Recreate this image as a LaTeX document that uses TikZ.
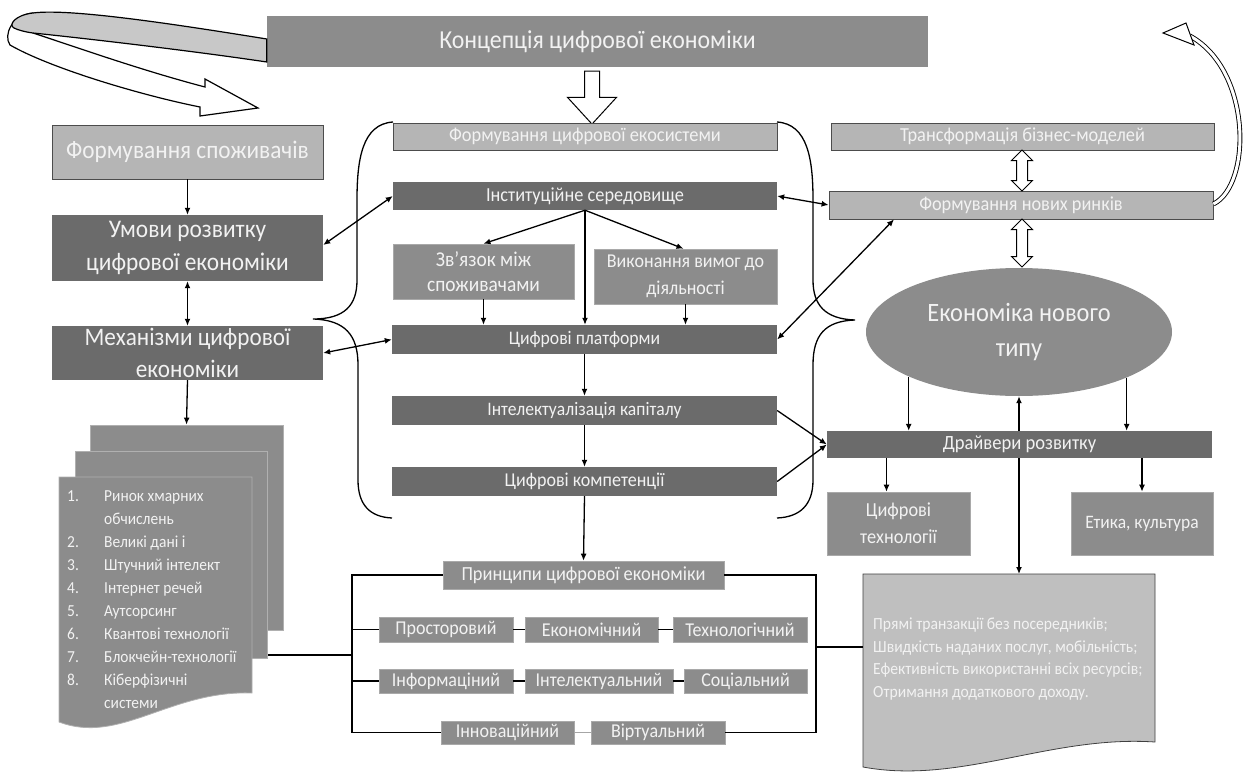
\documentclass[tikz,border=0pt]{standalone}
\usepackage{fontspec}
\setmainfont{Carlito}[FakeStretch=0.92]
\usetikzlibrary{arrows.meta,shapes.geometric,shapes.arrows,calc,backgrounds}

\definecolor{dk}{HTML}{6B6B6B}
\definecolor{md}{HTML}{8C8C8C}
\definecolor{lt}{HTML}{B5B5B5}
\definecolor{ltdoc}{HTML}{BFBFBF}
\definecolor{txt}{HTML}{F2F2F2}
\definecolor{ribbon}{HTML}{C8C8C8}
\definecolor{sheetedge}{HTML}{B0B0B0}

\newcommand{\myfs}[2]{\fontsize{#1}{#2}\selectfont}

\begin{document}
\begin{tikzpicture}[x=1pt,y=-1pt,
  box/.style={rectangle, inner sep=0pt, text=txt, align=center},
  dkbox/.style={box, fill=dk},
  mdbox/.style={box, fill=md, draw=md!75!white, line width=0.6pt},
  ltbox/.style={box, fill=lt, draw=black!70, line width=0.8pt},
  tip/.style={Latex[length=7pt,width=6pt]},
  arr/.style={-{Latex[length=7pt,width=6pt]}, line width=1.3pt},
  darr/.style={{Latex[length=7pt,width=6pt]}-{Latex[length=7pt,width=6pt]}, line width=1.3pt},
  grp/.style={line width=1.5pt},
  hollow/.style={draw=black, fill=white, line width=1pt},
]
\useasboundingbox (0,0) rectangle (1248,776);
\begin{scope}[on background layer]
  \fill[white] (0,0) rectangle (1248,776);
\end{scope}

% ---------- top title ----------
\node[box, fill=md, minimum width=661, minimum height=51, font=\myfs{25.9}{30}] (title) at (597.5,41.5) {Концепція цифрової економіки};

% ribbon arrow from the title down to the left column
\filldraw[fill=white, draw=black, line width=1.2pt]
  (33,13) .. controls (12,15) and (3,35) .. (10,45)
  .. controls (50,68) and (140,95) .. (200,107)
  -- (200,116) -- (258,108) -- (205,79) -- (205,87)
  .. controls (140,70) and (70,45) .. (33,33) -- cycle;
\filldraw[fill=ribbon, draw=black, line width=1.2pt]
  (title.west |- 0,39) .. controls (180,25) and (70,8) .. (33,13)
  .. controls (15,15) and (8,25) .. (14,28)
  .. controls (18,30) and (25,32) .. (33,33)
  .. controls (100,40) and (200,52) .. (title.west |- 0,62) -- cycle;

% hollow arrow under the title
\node[single arrow, hollow, rotate=-90, minimum height=53, inner xsep=0pt, inner ysep=7pt,
  minimum width=0pt, single arrow head extend=17pt, single arrow tip angle=85] (down) at (592,93.5) {};

% ---------- left column ----------
\node[ltbox, minimum width=271, minimum height=54, font=\myfs{25.3}{30}] (cons) at (187.5,152) {Формування споживачів};
\node[dkbox, minimum width=271, minimum height=66, font=\myfs{25.4}{33}] (cond) at (187.5,248) {Умови розвитку\\цифрової економіки};
\node[dkbox, minimum width=271, minimum height=54, font=\myfs{25.2}{32}] (mech) at (187.5,353) {Механізми цифрової\\економіки};

% stacked documents
\node[box, fill=md, draw=sheetedge, line width=0.8pt, minimum width=193, minimum height=205] (sh3) at (186.5,527.5) {};
\node[box, fill=md, draw=sheetedge, line width=0.8pt, minimum width=192, minimum height=207] (sh2) at (171,554.5) {};
\filldraw[fill=md, draw=sheetedge, line width=0.8pt]
  (59,477) -- (252,477) -- (252,693) .. controls (170,690) and (120,745) .. (59,722) -- cycle;
\coordinate (fre) at (252,655);
\node[anchor=north west, inner sep=0pt, text=txt, font=\myfs{16.8}{23}] (list) at (67,485) {%
\begin{tabular}{@{}p{37pt}@{}l@{}}
1. & Ринок хмарних\\
   & обчислень\\
2. & Великі дані і\\
3. & Штучний інтелект\\
4. & Інтернет речей\\
5. & Аутсорсинг\\
6. & Квантові технології\\
7. & Блокчейн-технології\\
8. & Кіберфізичні\\
   & системи
\end{tabular}};

% ---------- middle column ----------
\node[ltbox, minimum width=384, minimum height=27, font=\myfs{20}{23}] (eco) at (585,136.5) {Формування цифрової екосистеми};
\node[dkbox, minimum width=384, minimum height=28, font=\myfs{19.9}{23}] (inst) at (585,196) {Інституційне середовище};
\node[mdbox, minimum width=181, minimum height=55, font=\myfs{21.1}{25}] (link) at (483.5,271.5) {Зв’язок між\\споживачами};
\node[mdbox, minimum width=183, minimum height=55, font=\myfs{19.6}{27}] (req) at (685.5,276.5) {Виконання вимог до\\діяльності};
\node[dkbox, minimum width=385, minimum height=29, font=\myfs{19.2}{23}] (plat) at (584.5,339.5) {Цифрові платформи};
\node[dkbox, minimum width=385, minimum height=29, font=\myfs{19.1}{23}] (intel) at (584.5,410.5) {Інтелектуалізація капіталу};
\node[dkbox, minimum width=385, minimum height=29, font=\myfs{19.6}{23}] (comp) at (584.5,481.5) {Цифрові компетенції};

% braces around the ecosystem
\draw[line width=1.3pt] (393,122) .. controls (362,124) and (357,160) .. (357,200) -- (357,280)
  .. controls (357,305) and (345,319) .. (313,319)
  .. controls (345,320) and (358,335) .. (358,365) -- (358,480)
  .. controls (358,505) and (370,517) .. (392,518);
\draw[line width=1.3pt] (777,122) .. controls (808,124) and (813,160) .. (813,200) -- (813,280)
  .. controls (813,305) and (825,319) .. (855,320)
  .. controls (825,321) and (813,335) .. (813,365) -- (813,480)
  .. controls (813,505) and (800,517) .. (777,518);

% ---------- principles ----------
\tikzset{pbox/.style={mdbox, font=\myfs{19.6}{23}}}
\node[mdbox, minimum width=281, minimum height=28, font=\myfs{20}{23}] (prin) at (583.5,575) {Принципи цифрової економіки};
\node[pbox, minimum width=134, minimum height=25] (spat) at (446,629.5) {Просторовий};
\node[pbox, minimum width=133, minimum height=25] (econ) at (591.5,629.5) {Економічний};
\node[pbox, minimum width=134, minimum height=25] (tech) at (740,629.5) {Технологічний};
\node[pbox, minimum width=134, minimum height=24] (info) at (446,681) {Інформаціний};
\node[pbox, minimum width=148, minimum height=24] (intl) at (599,681) {Інтелектуальний};
\node[pbox, minimum width=123, minimum height=24] (soc) at (745.5,681) {Соціальний};
\node[pbox, minimum width=133, minimum height=23] (inno) at (507.5,732.5) {Інноваційний};
\node[pbox, minimum width=134, minimum height=23] (virt) at (658,732.5) {Віртуальний};
\coordinate (gl) at (352,0);
\coordinate (gr) at (816,0);

% ---------- right column ----------
\node[ltbox, minimum width=383, minimum height=27, font=\myfs{19.9}{23}] (trans) at (1022.5,136.5) {Трансформація бізнес-моделей};
\node[ltbox, minimum width=384, minimum height=28, font=\myfs{19.9}{23}] (mark) at (1021,205) {Формування нових ринків};
\node[ellipse, fill=md, minimum width=306, minimum height=128, inner sep=0pt, text=txt, align=center, font=\myfs{26.5}{35}] (newec) at (1019,332) {Економіка нового\\типу};
\node[dkbox, minimum width=385, minimum height=27, font=\myfs{20.2}{23}] (drv) at (1019.5,444.5) {Драйвери розвитку};
\node[mdbox, minimum width=143, minimum height=63, font=\myfs{19.9}{27}] (dtech) at (898.5,523.5) {Цифрові\\технології};
\node[mdbox, minimum width=142, minimum height=63, font=\myfs{19}{25}] (eth) at (1142,523.5) {Етика, культура};

% hollow double arrows
\node[double arrow, hollow, rotate=90, minimum height=41, inner xsep=0pt, inner ysep=5pt,
  minimum width=0pt, double arrow head extend=5pt] (da1) at (1022,170.5) {};
\node[double arrow, hollow, rotate=90, minimum height=48, inner xsep=0pt, inner ysep=5pt,
  minimum width=0pt, double arrow head extend=5pt] (da2) at (1022,243) {};

% curved arrow from the markets box back to the top
\draw[double=white, double distance=3pt, line width=0.9pt]
  (mark.east |- 0,204) .. controls (1252,185) and (1252,70) .. (1190,36);
\filldraw[fill=white, draw=black, line width=1pt] (1186,23) -- (1163,33) -- (1194,45) -- cycle;

% bottom right document
\filldraw[fill=ltdoc, draw=black!75, line width=0.8pt]
  (863,574) -- (1155,574) -- (1155,742) .. controls (1050,735) and (960,785) .. (863,767) -- cycle;
\coordinate (d2n) at (1019,574);
\coordinate (d2w) at (863,647);
\node[anchor=north west, inner sep=0pt, align=left, text=txt, font=\myfs{17}{22.5}] (res) at (873,618) {%
Прямі транзакції без посередників;\\
Швидкість наданих послуг, мобільність;\\
Ефективність використанні всіх ресурсів;\\
Отримання додаткового доходу.};

% ---------- connectors ----------
\begin{scope}[on background layer]
  \draw[darr] (newec.south) -- (d2n);
  \draw[grp] (fre) -- (fre -| gl);
\end{scope}

\draw[arr] (cons.south) -- (cond.north);
\draw[darr] (cond.south) -- (mech.north);
\draw[arr] (mech.south) -- (sh3.north);
\draw[darr] (cond.east) ++(0,-3) coordinate (ce) (ce) -- (inst.west);
\draw[darr] (mech.east) -- (plat.west);

\draw[arr] (inst.south) -- (link.north);
\draw[arr] (inst.south) -- ([xshift=-2pt]req.north);
\draw[arr] (inst.south) -- (inst.south |- plat.north);
\draw[arr] (link.south) -- (link.south |- plat.north);
\draw[arr] (req.south) -- (req.south |- plat.north);
\draw[arr] (plat.south) -- (intel.north);
\draw[arr] (intel.south) -- (comp.north);
\draw[arr] (comp.south) -- (prin.north);

\draw[darr] (inst.east) -- (mark.west);
\draw[darr] (plat.east) -- ($(mark.south west)!0.17!(mark.south east)$);
\draw[arr] (intel.east) -- (drv.west);
\draw[arr] (comp.east) -- (drv.west);

\draw[arr] (newec.202.6) -- (newec.202.6 |- drv.north);
\draw[arr] (newec.337.4) -- (newec.337.4 |- drv.north);
\draw[arr] ([xshift=-12pt]dtech.north |- drv.south) -- ([xshift=-12pt]dtech.north);
\draw[arr] (eth.north |- drv.south) -- (eth.north);

% principles frame
\draw[grp] (prin.west) -| (gl |- inno.west) -- (inno.west);
\draw[grp] (prin.east) -| (gr |- virt.east) -- (virt.east);
\draw[grp] (spat.west -| gl) -- (spat.west);
\draw[grp] (info.west -| gl) -- (info.west);
\draw[grp] (d2w -| gr) -- (d2w);
\draw[grp] (spat) -- (econ);
\draw[grp] (econ) -- (tech);
\draw[grp] (info) -- (intl);
\draw[grp] (intl) -- (soc);
\draw[line width=0.8pt, black!35] (inno) -- (virt);
\end{tikzpicture}
\end{document}
